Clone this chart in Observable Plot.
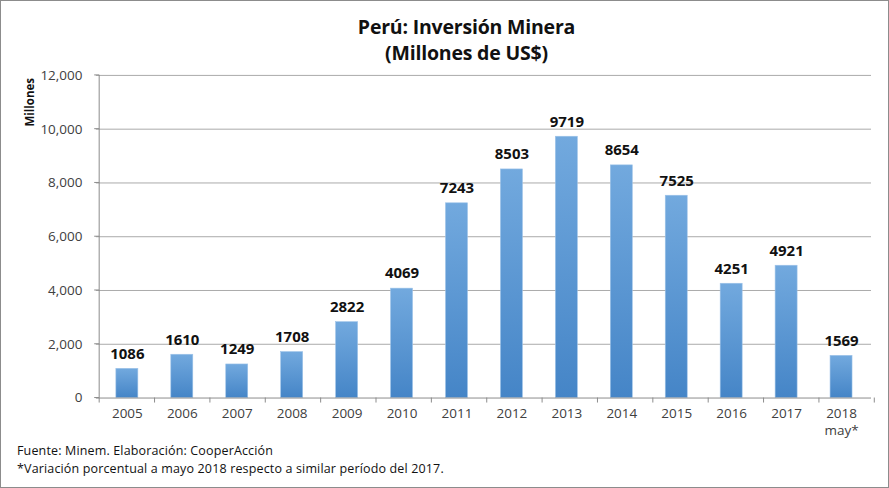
<!DOCTYPE html>
<html><head><meta charset="utf-8">
<script src="https://cdn.jsdelivr.net/npm/d3@7"></script>
<script src="https://cdn.jsdelivr.net/npm/@observablehq/plot@0.6"></script>
<style>
html,body{margin:0;padding:0;background:#fff;}
#wrap{position:relative;width:887px;height:486px;border:1px solid #8c8c8c;overflow:hidden;font-family:"Open Sans",sans-serif;}
#title{position:absolute;left:0;width:931px;top:13px;text-align:center;font-weight:bold;font-size:19.5px;line-height:26px;color:#111;letter-spacing:-0.2px;}
.foot{position:absolute;left:16px;font-size:12.5px;line-height:14px;color:#111;white-space:nowrap;letter-spacing:0.15px;}
#chart{position:absolute;left:-1px;top:-1px;}
</style></head>
<body><div id="wrap">
<div id="chart"></div>
<div id="title">Perú: Inversión Minera<br>(Millones de US$)</div>
<div class="foot" style="top:443px">Fuente: Minem. Elaboración: CooperAcción</div>
<div class="foot" style="top:461px">*Variación porcentual a mayo 2018 respecto a similar período del 2017.</div>
</div>
<script>
const years = ["2005","2006","2007","2008","2009","2010","2011","2012","2013","2014","2015","2016","2017","2018"];
const yearLabels = ["2005","2006","2007","2008","2009","2010","2011","2012","2013","2014","2015","2016","2017","2018\nmay*"];
const values = [1086,1610,1249,1708,2822,4069,7243,8503,9719,8654,7525,4251,4921,1569];
const yTicks = [0,2000,4000,6000,8000,10000,12000];

const data = years.map((y,i)=>({year:y, value:values[i], label:yearLabels[i]}));
const W = 889, H = 488, mL = 96, mR = 17;

// custom axis ticks drawn through the plot's scales
function axisTicks(index, scales, values, dims) {
  const g = d3.create("svg:g").attr("stroke", "#8c8c8c").attr("stroke-width", 1);
  const x = scales.x, y = scales.y;
  const step = (dims.width - dims.marginLeft - dims.marginRight) / years.length;
  const left = x(years[0]) + (typeof x.bandwidth === "function" ? x.bandwidth() / 2 : 0) - step / 2;
  const y0 = y(0);
  g.append("line").attr("x1", left).attr("x2", left).attr("y1", y(12000)).attr("y2", y0);
  for (const v of yTicks) {
    g.append("line").attr("x1", left - 5).attr("x2", left).attr("y1", y(v)).attr("y2", y(v));
  }
  for (let i = 0; i <= years.length; i++) {
    const xb = left + i * step;
    g.append("line").attr("x1", xb).attr("x2", xb).attr("y1", y0).attr("y2", y0 + 5);
  }
  return g.node();
}

const plot = Plot.plot({
  width: W, height: H,
  marginLeft: mL, marginRight: mR, marginTop: 75, marginBottom: 90,
  style: {fontFamily: "Open Sans, sans-serif", background: "transparent"},
  x: {domain: years, paddingInner: 0.6, paddingOuter: 0.3, axis: null},
  y: {domain: [0,12000], axis: null},
  marks: [
    () => {
      const svg = d3.create("svg:defs");
      const g = svg.append("linearGradient").attr("id","barGrad").attr("x1",0).attr("x2",0).attr("y1",0).attr("y2",1);
      g.append("stop").attr("offset","0%").attr("stop-color","#72a9de");
      g.append("stop").attr("offset","100%").attr("stop-color","#4585c7");
      return svg.node();
    },
    Plot.ruleY(yTicks.slice(1), {stroke: "#ababab", strokeWidth: 1}),
    Plot.barY(data, {x: "year", y: "value", fill: "url(#barGrad)", stroke: "#9cc2e8", strokeWidth: 0.6}),
    Plot.ruleY([0], {stroke: "#8c8c8c", strokeWidth: 1}),
    axisTicks,
    Plot.text(yTicks, {y: d => d, frameAnchor: "left", dx: -14, text: d => d3.format(",")(d), textAnchor: "end", fontSize: 13.5, fill: "#404040"}),
    Plot.text(yearLabels, {x: (d,i) => years[i], y: 0, dy: 8, text: d => d, lineAnchor: "top", fontSize: 13.5, fill: "#404040", lineHeight: 1.25}),
    Plot.text(data, {x: "year", y: "value", text: d => String(d.value), dy: -15, fontSize: 15, fontWeight: "bold", fill: "#111"}),
    Plot.text(["Millones"], {y: () => 11000, frameAnchor: "left", dx: -66, rotate: -90, textAnchor: "middle", text: d => d, fontSize: 11.5, fontWeight: "bold", fill: "#111"})
  ]
});
document.getElementById("chart").appendChild(plot);
</script>
</body></html>
